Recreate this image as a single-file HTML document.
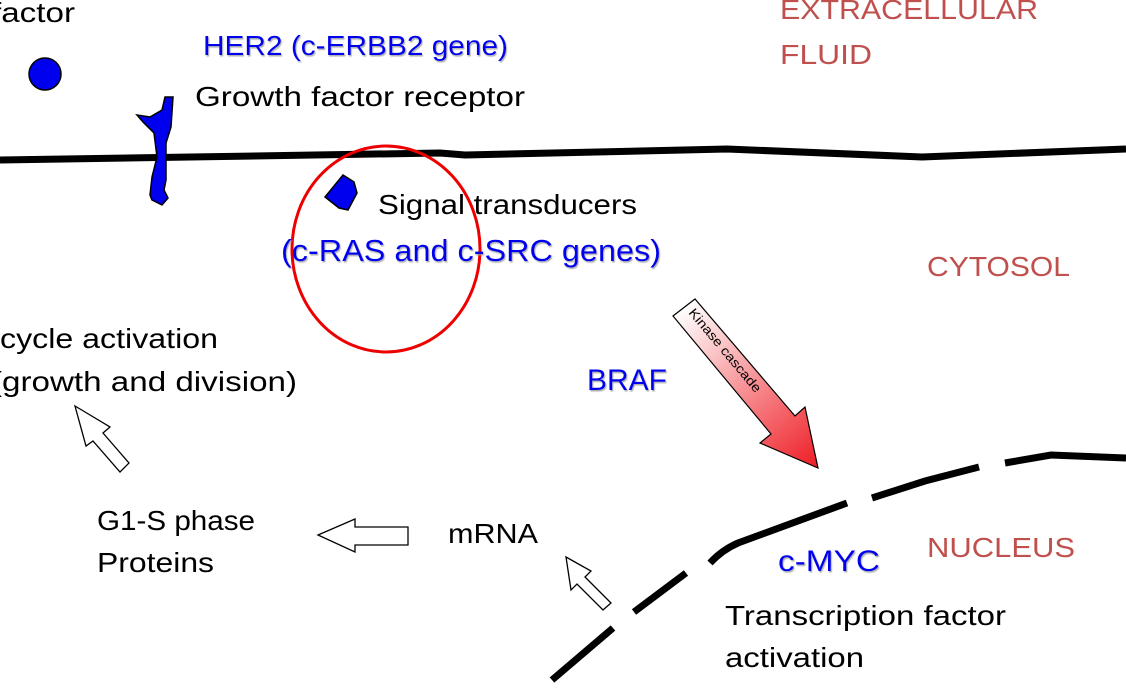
<!DOCTYPE html>
<html><head><meta charset="utf-8"><style>
html,body{margin:0;padding:0;background:#fff;width:1126px;height:697px;overflow:hidden}
svg{display:block}
text{font-family:"Liberation Sans",sans-serif;font-size:28px}
.b{fill:#0000ee}
.r{fill:#c0504d}
</style></head><body>
<svg width="1126" height="697" viewBox="0 0 1126 697" xmlns="http://www.w3.org/2000/svg">
<defs>
<linearGradient id="g" x1="684" y1="307" x2="818" y2="468" gradientUnits="userSpaceOnUse">
<stop offset="0" stop-color="#ffffff"/><stop offset="1" stop-color="#ee1c24"/>
</linearGradient>
<filter id="sh"><feDropShadow dx="1" dy="1.5" stdDeviation="0.6" flood-color="#999" flood-opacity="0.8"/></filter>
</defs>

<path d="M0,160 L440,153 L465,155 L727,149 L922,157 L1126,149" fill="none" stroke="#000" stroke-width="7"/>

<g stroke="#000" stroke-width="7" fill="none">
<path d="M552,680 L613,628"/>
<path d="M634,612 L686,573"/>
<path d="M710,563 Q722,550 738,543 L847,503"/>
<path d="M872,498 L925,481 L979,467"/>
<path d="M1005,463 L1051,455 L1126,458"/>
</g>

<circle cx="45" cy="74" r="16" fill="#0000ee" stroke="#000" stroke-width="1.5"/>
<polygon points="137,115 150,117 162,110 165,97 173,97 171,127 166,143 166,180 164,190 168,198 162,205 152,200 150,195 152,177 157,157 154,133 143,122" fill="#0000ee" stroke="#000" stroke-width="1.5"/>
<polygon points="325,197 343,175 354,182 357,193 348,210 339,208" fill="#0000ee" stroke="#000" stroke-width="1.5"/>

<ellipse cx="386" cy="249" rx="94" ry="103" fill="none" stroke="#ee0000" stroke-width="3"/>

<polygon points="673,316 695,299 795,416 805,407 818,468 760,443 771,434" fill="url(#g)" stroke="#000" stroke-width="1.2"/>
<text transform="translate(688,313) rotate(50)" style="font-size:13px" textLength="105" lengthAdjust="spacingAndGlyphs">Kinase cascade</text>

<polygon points="318,535 355,519 355,527 408,527 408,545 355,545 355,552" fill="#fff" stroke="#000" stroke-width="1.3"/>
<polygon points="75,406 110,427 103,433 129,463 120,472 93,441 86,446" fill="#fff" stroke="#000" stroke-width="1.3"/>
<polygon points="566,557 591,571 585,577 611,603 603,610 577,584 571,590" fill="#fff" stroke="#000" stroke-width="1.3"/>

<text x="-8" y="22" textLength="83" lengthAdjust="spacingAndGlyphs">factor</text>
<text class="b" x="203" y="55" textLength="305" lengthAdjust="spacingAndGlyphs" filter="url(#sh)">HER2 (c-ERBB2 gene)</text>
<text x="195" y="106" textLength="330" lengthAdjust="spacingAndGlyphs">Growth factor receptor</text>
<text x="378" y="214" textLength="259" lengthAdjust="spacingAndGlyphs">Signal transducers</text>
<text class="b" x="281" y="261" style="font-size:31px" textLength="380" lengthAdjust="spacingAndGlyphs" filter="url(#sh)">(c-RAS and c-SRC genes)</text>
<text class="r" x="780" y="19" textLength="258" lengthAdjust="spacingAndGlyphs">EXTRACELLULAR</text>
<text class="r" x="780" y="64" textLength="92" lengthAdjust="spacingAndGlyphs">FLUID</text>
<text class="r" x="927" y="276" textLength="143" lengthAdjust="spacingAndGlyphs">CYTOSOL</text>
<text x="0" y="348" textLength="218" lengthAdjust="spacingAndGlyphs">cycle activation</text>
<text x="-9" y="391" textLength="306" lengthAdjust="spacingAndGlyphs">(growth and division)</text>
<text class="b" x="587" y="390" style="font-size:30px" textLength="80" lengthAdjust="spacingAndGlyphs" filter="url(#sh)">BRAF</text>
<text x="97" y="530" textLength="158" lengthAdjust="spacingAndGlyphs">G1-S phase</text>
<text x="97" y="572" textLength="117" lengthAdjust="spacingAndGlyphs">Proteins</text>
<text x="448" y="543" textLength="90" lengthAdjust="spacingAndGlyphs">mRNA</text>
<text class="r" x="927" y="557" textLength="148" lengthAdjust="spacingAndGlyphs">NUCLEUS</text>
<text class="b" x="778" y="571" style="font-size:30px" textLength="102" lengthAdjust="spacingAndGlyphs" filter="url(#sh)">c-MYC</text>
<text x="725" y="625" textLength="281" lengthAdjust="spacingAndGlyphs">Transcription factor</text>
<text x="725" y="667" textLength="139" lengthAdjust="spacingAndGlyphs">activation</text>
</svg>
</body></html>
